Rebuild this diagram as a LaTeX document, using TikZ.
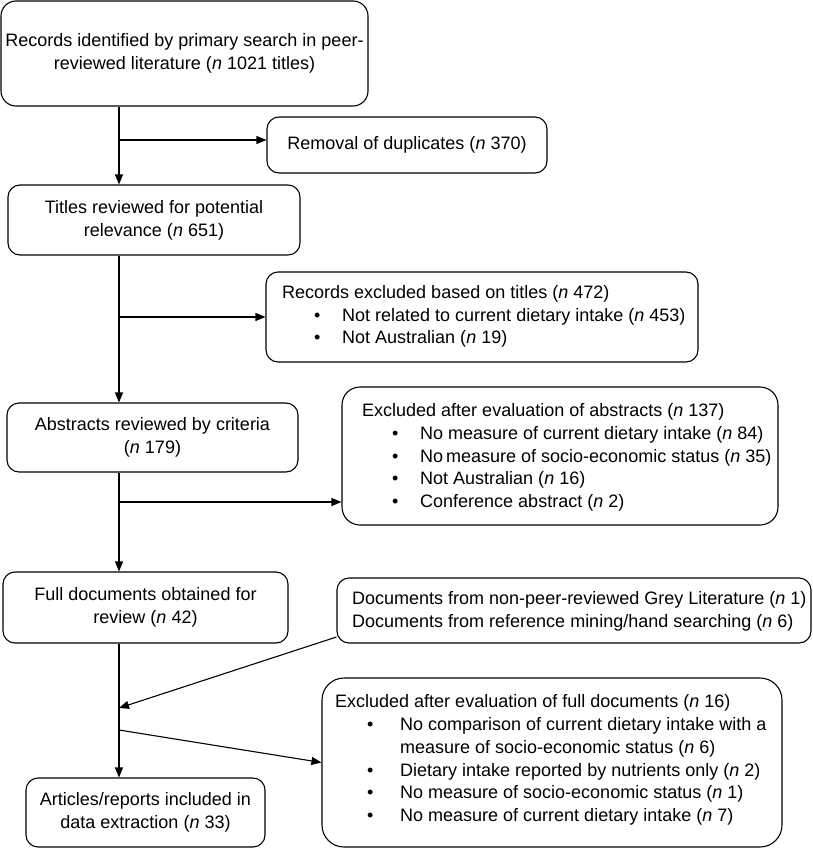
\documentclass[tikz,border=0pt]{standalone}
\usepackage{fontspec}
\setmainfont{Liberation Sans}
\usetikzlibrary{arrows.meta}
\newcommand\boxfont{\fontsize{18pt}{22.8pt}\selectfont}
\newcommand\nn{\textit{n}}
\newcommand\bul[2]{\hspace*{#1}\makebox[#2][l]{\textbullet}}
\begin{document}
\begin{tikzpicture}[x=1pt,y=-1pt,
  box/.style={draw, line width=1.1pt, rounded corners=12pt, inner sep=0pt, align=center, font=\boxfont},
  bigbox/.style={box, rounded corners=18pt},
  txt/.style={inner sep=0pt, align=left, anchor=west, font=\boxfont},
  arr/.style={line width=1.1pt, -{Triangle[length=10pt,width=8pt]}},
  ln/.style={line width=1.1pt}]
\useasboundingbox (0,0) rectangle (812,849);
\coordinate (m) at (119,0);

% left column
\node[box, minimum width=367pt, minimum height=105pt, rounded corners=15pt] (b1) at (184.5,53.5)
  {Records identified by primary search in peer-\\reviewed literature (\nn{} 1021 titles)};
\node[box, minimum width=292pt, minimum height=70pt] (b3) at (154,220)
  {Titles reviewed for potential\\relevance (\nn{} 651)};
\node[box, minimum width=291pt, minimum height=69pt] (b5) at (152.5,437.5)
  {Abstracts reviewed by criteria\\(\nn{} 179)};
\node[box, minimum width=285pt, minimum height=71pt] (b7) at (145.5,607.5)
  {Full documents obtained for\\review (\nn{} 42)};
\node[box, minimum width=239pt, minimum height=69pt] (b10) at (145.5,812.5)
  {Articles/reports included in\\data extraction (\nn{} 33)};

% right column
\node[box, minimum width=280pt, minimum height=56pt] (b2) at (407,145)
  {Removal of duplicates (\nn{} 370)};

\node[box, minimum width=432pt, minimum height=90pt] (b4) at (482,317) {};
\node[txt] (b4t) at (282,316.5)
  {Records excluded based on titles (\nn{} 472)\\
   \bul{32pt}{28pt}Not related to current dietary intake (\nn{} 453)\\
   \bul{32pt}{28pt}Not Australian (\nn{} 19)};

\node[bigbox, minimum width=436pt, minimum height=138pt] (b6) at (560,456) {};
\node[txt] (b6t) at (362,457.5)
  {Excluded after evaluation of abstracts (\nn{} 137)\\
   \bul{30pt}{28pt}No measure of current dietary intake (\nn{} 84)\\
   \bul{30pt}{28pt}No\,measure of socio-economic status (\nn{} 35)\\
   \bul{30pt}{28pt}Not Australian (\nn{} 16)\\
   \bul{30pt}{28pt}Conference abstract (\nn{} 2)};

\node[box, minimum width=474pt, minimum height=65pt] (b8) at (574,610.5) {};
\node[txt] (b8t) at (352,611)
  {Documents from non-peer-reviewed Grey Literature (\nn{} 1)\\
   Documents from reference mining/hand searching (\nn{} 6)};

\node[bigbox, rounded corners=22pt, minimum width=460pt, minimum height=169pt] (b9) at (552,762.5) {};
\node[txt] (b9t) at (335,760)
  {Excluded after evaluation of full documents (\nn{} 16)\\
   \bul{32pt}{33pt}No comparison of current dietary intake with a\\
   \hspace*{65pt}measure of socio-economic status (\nn{} 6)\\
   \bul{32pt}{33pt}Dietary intake reported by nutrients only (\nn{} 2)\\
   \bul{32pt}{33pt}No measure of socio-economic status (\nn{} 1)\\
   \bul{32pt}{33pt}No measure of current dietary intake (\nn{} 7)};

% connector helper points
\path ([yshift=5pt]b2.west) coordinate (b2in);
\path ([yshift=-46pt]b6.west) coordinate (b6in);
\path ([yshift=-26.5pt]b8.west) coordinate (b8out);
\coordinate (j3) at (119,708);
\coordinate (j4) at (119,730);

% main spine
\draw[arr] (b1.south -| m) -- (b3.north -| m);
\draw[arr] (b3.south -| m) -- (b5.north -| m);
\draw[arr] (b5.south -| m) -- (b7.north -| m);
\draw[arr] (b7.south -| m) -- (b10.north -| m);

% branches
\draw[arr] (b2in -| m) -- (b2in);
\draw[arr] (b4.west -| m) -- (b4.west);
\draw[arr] (b6in -| m) -- (b6in);
\draw[arr] (b8out) -- (j3);
\draw[arr] (j4) -- (b9.west);
\end{tikzpicture}
\end{document}
